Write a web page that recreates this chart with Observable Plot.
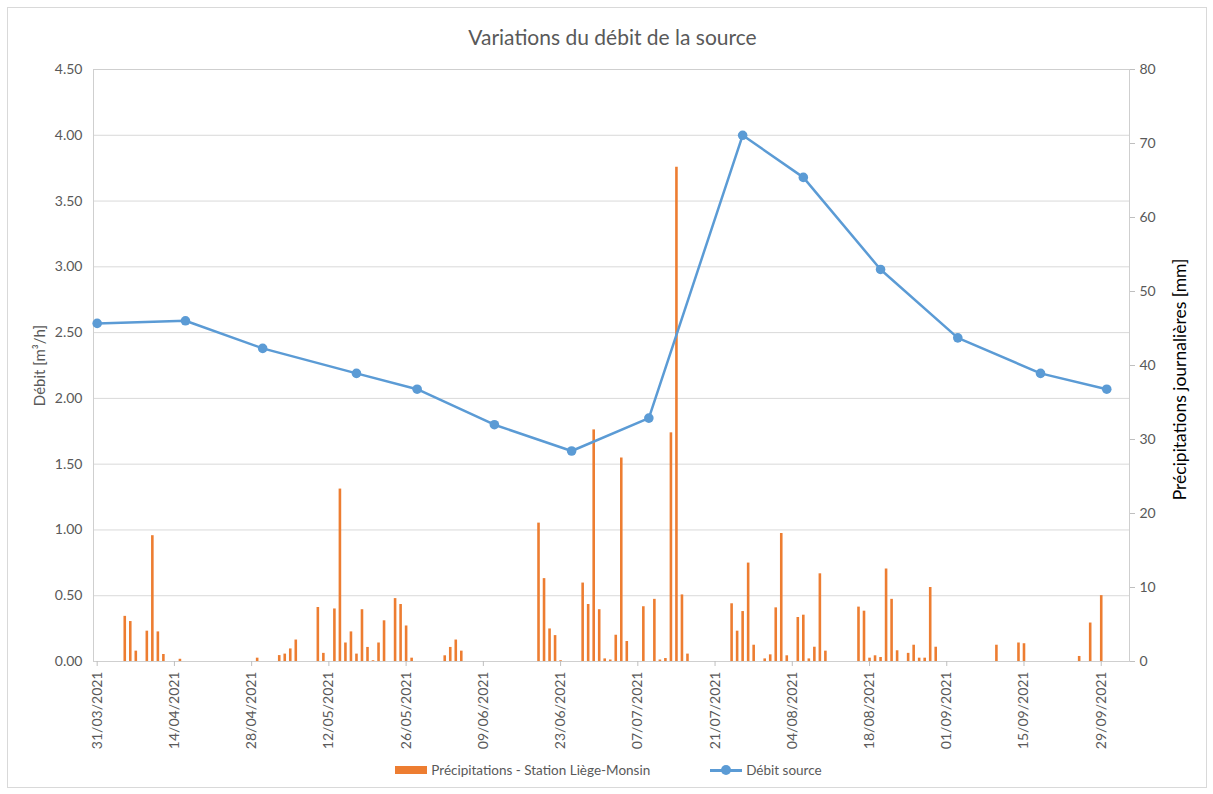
<!DOCTYPE html>
<html>
<head>
<meta charset="utf-8">
<script src="https://cdn.jsdelivr.net/npm/d3@7"></script>
<script src="https://cdn.jsdelivr.net/npm/@observablehq/plot@0.6"></script>
<style>
  html, body { margin: 0; padding: 0; background: #fff; }
  body { width: 1213px; height: 794px; position: relative; overflow: hidden; font-family: Lato, "Open Sans", sans-serif; }
  #border { position: absolute; left: 7px; top: 7px; width: 1198px; height: 779px; border: 1px solid #d9d9d9; }
  #title { position: absolute; left: 0; width: 1225px; top: 26px; text-align: center; font-size: 21px; line-height: 21px; color: #595959; }
  #chart { position: absolute; left: 0; top: 55px; }
  #legend { position: absolute; left: 0; width: 1213px; top: 762px; display: flex; justify-content: center; align-items: center; font-size: 13.5px; line-height: 16px; color: #595959; }
  .sw { display: inline-block; width: 32px; height: 8px; background: #ED7D31; margin-right: 4px; margin-left: 4px; }
  .ln { display: inline-block; position: relative; width: 32px; height: 10px; margin-left: 60px; margin-right: 4px; }
  .ln::before { content: ""; position: absolute; left: 0; right: 0; top: 4px; height: 2.5px; background: #5B9BD5; }
  .ln::after { content: ""; position: absolute; left: 11px; top: 0; width: 10px; height: 10px; border-radius: 50%; background: #5B9BD5; }
</style>
</head>
<body>
<div id="border"></div>
<div id="title">Variations du débit de la source</div>
<div id="chart"></div>
<div id="legend"><span class="sw"></span><span>Précipitations - Station Liège-Monsin</span><span class="ln"></span><span>Débit source</span></div>
<script>
// Daily precipitation (mm) – Station Liège-Monsin
const rainDates = [
  "2021-04-05","2021-04-06","2021-04-07","2021-04-09","2021-04-10","2021-04-11","2021-04-12","2021-04-15",
  "2021-04-29","2021-05-03","2021-05-04","2021-05-05","2021-05-06","2021-05-10","2021-05-11","2021-05-13",
  "2021-05-14","2021-05-15","2021-05-16","2021-05-17","2021-05-18","2021-05-19","2021-05-20","2021-05-21",
  "2021-05-22","2021-05-24","2021-05-25","2021-05-26","2021-05-27","2021-06-02","2021-06-03","2021-06-04",
  "2021-06-05","2021-06-19","2021-06-20","2021-06-21","2021-06-22","2021-06-23","2021-06-27","2021-06-28",
  "2021-06-29","2021-06-30","2021-07-01","2021-07-02","2021-07-03","2021-07-04","2021-07-05","2021-07-08",
  "2021-07-10","2021-07-11","2021-07-12","2021-07-13","2021-07-14","2021-07-15","2021-07-16","2021-07-24",
  "2021-07-25","2021-07-26","2021-07-27","2021-07-28","2021-07-30","2021-07-31","2021-08-01","2021-08-02",
  "2021-08-03","2021-08-05","2021-08-06","2021-08-07","2021-08-08","2021-08-09","2021-08-10","2021-08-16",
  "2021-08-17","2021-08-18","2021-08-19","2021-08-20","2021-08-21","2021-08-22","2021-08-23","2021-08-25",
  "2021-08-26","2021-08-27","2021-08-28","2021-08-29","2021-08-30","2021-09-10","2021-09-14","2021-09-15",
  "2021-09-25","2021-09-27","2021-09-29"
];
const rainMm = [
  6.1, 5.4, 1.4, 4.1, 17.0, 4.0, 0.95, 0.3,
  0.45, 0.8, 1.0, 1.7, 2.9, 7.3, 1.1, 7.1,
  23.3, 2.5, 4.0, 1.0, 7.0, 1.9, 0.1, 2.5,
  5.5, 8.5, 7.7, 4.8, 0.45, 0.77, 1.9, 2.9,
  1.4, 18.7, 11.2, 4.4, 3.5, 0.1, 10.6, 7.7,
  31.3, 7.0, 0.35, 0.2, 3.55, 27.5, 2.7, 7.4,
  8.4, 0.2, 0.4, 30.9, 66.8, 9.0, 1.0, 7.8,
  4.1, 6.75, 13.3, 2.2, 0.35, 0.9, 7.25, 17.3,
  0.77, 5.95, 6.26, 0.35, 1.93, 11.85, 1.4, 7.35,
  6.8, 0.45, 0.77, 0.54, 12.5, 8.4, 1.45, 1.1,
  2.2, 0.45, 0.45, 10.0, 1.93, 2.2, 2.5, 2.4,
  0.68, 5.2, 8.9
];
// Spring discharge (m³/h)
const flowDates = ["2021-03-31","2021-04-16","2021-04-30","2021-05-17","2021-05-28","2021-06-11","2021-06-25",
                   "2021-07-09","2021-07-26","2021-08-06","2021-08-20","2021-09-03","2021-09-18","2021-09-30"];
const flowValues = [2.57, 2.59, 2.38, 2.19, 2.07, 1.80, 1.60, 1.85, 4.00, 3.68, 2.98, 2.46, 2.19, 2.07];

const xTickLabels = ["2021-03-31","2021-04-14","2021-04-28","2021-05-12","2021-05-26","2021-06-09","2021-06-23",
                     "2021-07-07","2021-07-21","2021-08-04","2021-08-18","2021-09-01","2021-09-15","2021-09-29"];
const leftTicks = [0, 0.5, 1, 1.5, 2, 2.5, 3, 3.5, 4, 4.5];
const rightTicks = [0, 10, 20, 30, 40, 50, 60, 70, 80];

const LEFT_MAX = 4.5, RIGHT_MAX = 80;
const toLeft = mm => mm * LEFT_MAX / RIGHT_MAX;

const rain = rainDates.map((d, i) => ({date: new Date(d), mm: rainMm[i]}));
const flow = flowDates.map((d, i) => ({date: new Date(d), v: flowValues[i]}));
const fmtDate = d3.utcFormat("%d/%m/%Y");

const chart = Plot.plot({
  width: 1213,
  height: 700,
  marginLeft: 93,
  marginRight: 84,
  marginTop: 14,
  marginBottom: 94,
  style: {fontFamily: "Lato, 'Open Sans', sans-serif", fontSize: "14px", color: "#595959", background: "transparent"},
  x: {type: "utc", domain: [new Date("2021-03-30T08:00Z"), new Date("2021-10-04T03:00Z")]},
  y: {domain: [0, LEFT_MAX]},
  marks: [
    Plot.gridY(leftTicks, {stroke: "#d9d9d9", strokeOpacity: 1}),
    Plot.frame({stroke: "#cfcfcf"}),
    Plot.ruleX(rain, {x: "date", y1: 0, y2: d => toLeft(d.mm), stroke: "#ED7D31", strokeWidth: 2.6}),
    Plot.line(flow, {x: "date", y: "v", stroke: "#5B9BD5", strokeWidth: 2.5}),
    Plot.dot(flow, {x: "date", y: "v", r: 4.8, fill: "#5B9BD5"}),
    Plot.axisY(leftTicks, {anchor: "left", tickSize: 0, tickPadding: 11, tickFormat: d => d.toFixed(2), label: null, fill: "#595959"}),
    Plot.axisY(rightTicks.map(toLeft), {anchor: "right", tickSize: 5, tickPadding: 5, stroke: "#bfbfbf",
      tickFormat: d => String(Math.round(d * RIGHT_MAX / LEFT_MAX)), label: null, fill: "#595959"}),
    Plot.axisX(xTickLabels.map(d => new Date(d)), {anchor: "bottom", tickSize: 5, tickPadding: 5, tickRotate: -90,
      stroke: "#bfbfbf", tickFormat: fmtDate, label: null, fill: "#595959"}),
    Plot.text(["Débit [m³/h]"], {text: d => d, frameAnchor: "left", dx: -53, rotate: -90, textAnchor: "middle",
      fill: "#595959", fontSize: 15}),
    Plot.text(["Précipitations journalières [mm]"], {text: d => d, frameAnchor: "right", dx: 51, dy: 14, rotate: -90,
      textAnchor: "middle", fill: "#000000", fontSize: 17.5})
  ]
});
document.getElementById("chart").appendChild(chart);
</script>
</body>
</html>
